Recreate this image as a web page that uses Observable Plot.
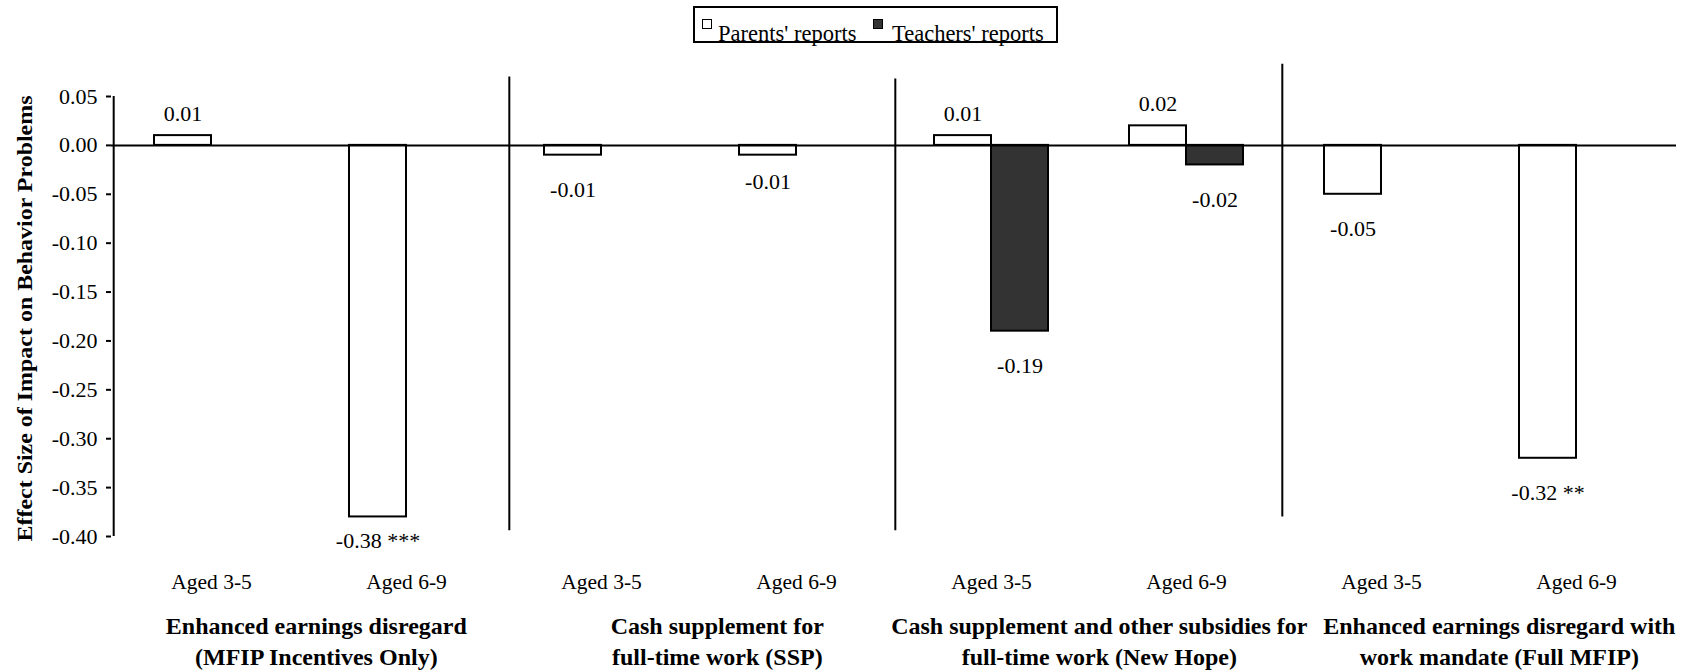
<!DOCTYPE html>
<html>
<head>
<meta charset="utf-8">
<script src="https://cdn.jsdelivr.net/npm/d3@7"></script>
<script src="https://cdn.jsdelivr.net/npm/@observablehq/plot@0.6"></script>
<style>
  html, body { margin: 0; padding: 0; background: #fff; }
  body { width: 1690px; height: 670px; overflow: hidden; font-family: "Liberation Serif", "Times New Roman", serif; }
  #legend { position: relative; width: 1690px; height: 48px; }
  #legend .box { position: absolute; left: 693px; top: 6px; width: 361px; height: 33px; border: 2px solid #000; }
  #legend .sw { position: absolute; width: 8px; height: 8px; border: 1.5px solid #000; }
  #legend .lab { position: absolute; font-size: 22.5px; line-height: 1; white-space: nowrap; color: #000; }
  #chart svg { display: block; }
</style>
</head>
<body>
<div id="legend"></div>
<div id="chart"></div>
<script>
// ---- data ----
const programs = [
  "Enhanced earnings disregard\n(MFIP Incentives Only)",
  "Cash supplement for\nfull-time work (SSP)",
  "Cash supplement and other subsidies for\nfull-time work (New Hope)",
  "Enhanced earnings disregard with\nwork mandate (Full MFIP)"
];
const ages = ["Aged 3-5", "Aged 6-9"];
const reports = ["Parents' reports", "Teachers' reports"];
// order: program 1 (3-5, 6-9), program 2 (3-5, 6-9), ...
const parentsValues  = [0.01, -0.38, -0.01, -0.01, 0.01, 0.02, -0.05, -0.32];
const teachersValues = [null, null, null, null, -0.19, -0.02, null, null];
const significance   = ["", "***", "", "", "", "", "", "**"];
const yTicks = [0.05, 0.00, -0.05, -0.10, -0.15, -0.20, -0.25, -0.30, -0.35, -0.40];
const yTitle = "Effect Size of Impact on Behavior Problems";

// ---- derived tables ----
const slots = [];
const rows = [];
programs.forEach((p, pi) => ages.forEach((a, ai) => {
  const k = pi * 2 + ai;
  const slot = pi + "|" + ai;
  slots.push(slot);
  if (parentsValues[k] != null) rows.push({slot, report: reports[0], value: parentsValues[k], stars: significance[k], k});
  if (teachersValues[k] != null) rows.push({slot, report: reports[1], value: teachersValues[k], stars: "", k});
}));
const groupFirstSlots = programs.map((p, pi) => ({slot: pi + "|0", label: p, pi}));

// ---- layout ----
const W = 1690, H = 622;
const mL = 111, mR = 14, mT = 48, mB = 134;
const step = (W - mL - mR) / slots.length;
const pInner = 1 - 114 / step;
const bw = step * (1 - pInner);
const fmt = v => v.toFixed(2);

const parents = rows.filter(d => d.report === reports[0]);
const teachers = rows.filter(d => d.report === reports[1]);
const labelText = d => fmt(d.value) + (d.stars ? " " + d.stars : "");

// separators between programs
const separators = [
  {slot: "0|1", y1: 0.070, y2: -0.394, nudge: 5},
  {slot: "1|1", y1: 0.068, y2: -0.394, nudge: 1},
  {slot: "2|1", y1: 0.083, y2: -0.380, nudge: -2}
];
const groupNudge = [7, 18, 10, 20];

const marks = [];
// y axis line
marks.push(Plot.ruleX([slots[0]], {x: d => d, dx: -step / 2, y1: 0.05, y2: -0.40, stroke: "#000", strokeWidth: 2}));
marks.push(Plot.axisY({ticks: yTicks, tickFormat: fmt, tickSize: 5, tickPadding: 9, fontSize: 22, strokeWidth: 2, label: null}));
marks.push(Plot.axisX({tickSize: 0, tickPadding: 37, fontSize: 21.5, label: null, tickFormat: s => ages[+s.split("|")[1]]}));
// separators
for (const s of separators) {
  marks.push(Plot.ruleX([s], {x: "slot", y1: "y1", y2: "y2", dx: step / 2 + s.nudge, stroke: "#000", strokeWidth: 2}));
}
// bars
for (const [data, rep] of [[parents, 0], [teachers, 1]]) {
  marks.push(Plot.barY(data, {
    x: "slot", y: "value",
    fill: rep === 0 ? "#fff" : "#333",
    stroke: "#000", strokeWidth: 2,
    insetLeft: rep === 0 ? 0 : bw / 2,
    insetRight: rep === 0 ? bw / 2 : 0
  }));
}
// zero line
marks.push(Plot.ruleY([0], {stroke: "#000", strokeWidth: 2}));
// value labels
for (const [data, rep] of [[parents, 0], [teachers, 1]]) {
  const dx = rep === 0 ? -bw / 4 : bw / 4;
  marks.push(Plot.text(data.filter(d => d.value > 0), {x: "slot", y: "value", text: labelText, dx, dy: -15, lineAnchor: "bottom", fontSize: 22}));
  const neg = data.filter(d => d.value < 0);
  marks.push(Plot.text(neg.filter(d => !(rep === 0 && (d.k === 1 || d.k === 3))), {x: "slot", y: "value", text: labelText, dx, dy: 42, lineAnchor: "bottom", fontSize: 22}));
  if (rep === 0) {
    marks.push(Plot.text(neg.filter(d => d.k === 1), {x: "slot", y: "value", text: labelText, dx, dy: 31, lineAnchor: "bottom", fontSize: 22}));
    marks.push(Plot.text(neg.filter(d => d.k === 3), {x: "slot", y: "value", text: labelText, dx, dy: 34, lineAnchor: "bottom", fontSize: 22}));
  }
}
// program labels
for (const g of groupFirstSlots) {
  marks.push(Plot.text([g], {x: "slot", text: "label", frameAnchor: "bottom", dx: step / 2 + groupNudge[g.pi], dy: 75, lineAnchor: "top", lineHeight: 1.3, fontSize: 24, fontWeight: "bold"}));
}
// y title
marks.push(Plot.text([yTitle], {frameAnchor: "left", textAnchor: "middle", rotate: -90, dx: -86, dy: 2, fontSize: 20.5, fontWeight: "bold", className: "ytitle"}));

const chart = Plot.plot({
  width: W, height: H,
  marginLeft: mL, marginRight: mR, marginTop: mT, marginBottom: mB,
  style: {fontFamily: "'Liberation Serif', 'Times New Roman', serif", fontSize: "22px", background: "#fff", color: "#000", overflow: "visible"},
  x: {domain: slots, range: [mL, W - mR], paddingInner: pInner, paddingOuter: pInner / 2, axis: null},
  y: {domain: [-0.40, 0.05], axis: null, label: null},
  marks
});
document.getElementById("chart").appendChild(chart);
const yt = chart.querySelector(".ytitle text");
if (yt) { yt.setAttribute("textLength", "446"); yt.setAttribute("lengthAdjust", "spacingAndGlyphs"); }

// ---- legend ----
const leg = document.getElementById("legend");
leg.innerHTML = `<div class="box"></div>
  <div class="sw" style="left:702px;top:19px;background:#fff"></div>
  <div class="lab" style="left:718px;top:23px">${reports[0]}</div>
  <div class="sw" style="left:873px;top:19px;background:#333"></div>
  <div class="lab" style="left:892px;top:23px">${reports[1]}</div>`;
</script>
</body>
</html>
